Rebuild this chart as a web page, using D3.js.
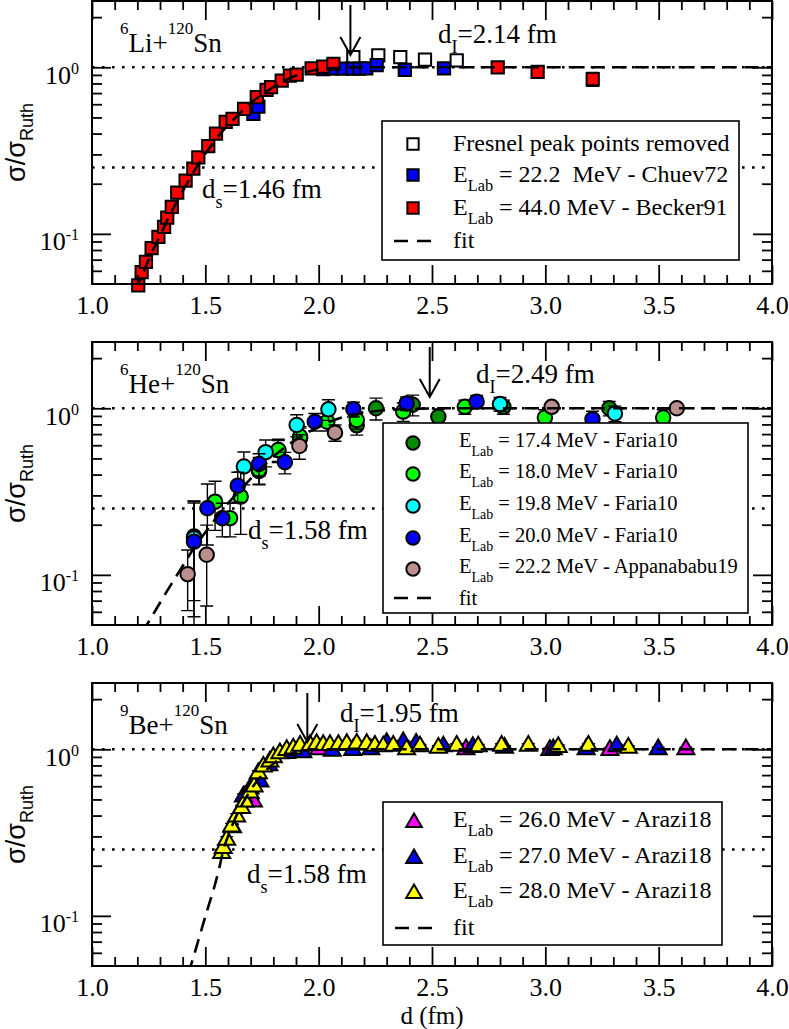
<!DOCTYPE html>
<html>
<head>
<meta charset="utf-8">
<script src="https://cdn.jsdelivr.net/npm/d3@7"></script>
<style>
  body { margin: 0; background: #fff; }
  svg text { white-space: pre; }
</style>
</head>
<body>
<svg id="chart" width="789" height="1029" font-family="'Liberation Serif', 'Times New Roman', Times, 'DejaVu Serif', serif"></svg>
<script>
// axes
const xDomain = [1, 4];
const yDomain = [0.05, 2.5];
const xMajor = [1.0, 1.5, 2.0, 2.5, 3.0, 3.5, 4.0];
const xMinor = [1.1, 1.2, 1.3, 1.4, 1.6, 1.7, 1.8, 1.9, 2.1, 2.2, 2.3, 2.4, 2.6, 2.7, 2.8, 2.9,
                3.1, 3.2, 3.3, 3.4, 3.6, 3.7, 3.8, 3.9];
const yMajor = [0.1, 1];
const yMinor = [0.06, 0.07, 0.08, 0.09, 0.2, 0.3, 0.4, 0.5, 0.6, 0.7, 0.8, 0.9, 2];
const refLines = [1, 0.25];

// annotations: strong absorption and interaction distances
const dS = [1.46, 1.58, 1.58];
const dI = [2.14, 2.49, 1.95];

// 6Li + 120Sn  [d, sigma/sigmaR, error]
const liFresnel = [[2.153, 1.15, 0.03], [2.263, 1.18, 0.03], [2.36, 1.15, 0.03], [2.469, 1.11, 0.03], [2.609, 1.10, 0.03]];
const liChuev = [[1.712, 0.525, 0.02], [1.734, 0.58, 0.02], [2.02, 0.975, 0.03], [2.06, 0.98, 0.03], [2.11, 0.98, 0.03],
                 [2.15, 0.98, 0.03], [2.18, 0.98, 0.03], [2.21, 0.985, 0.03], [2.256, 1.03, 0.03], [2.38, 0.965, 0.03],
                 [2.553, 0.985, 0.03]];
const liBecker = [[1.204, 0.049, 0.002], [1.219, 0.059, 0.003], [1.238, 0.068, 0.003], [1.263, 0.082, 0.004],
                  [1.293, 0.096, 0.004], [1.318, 0.11, 0.005], [1.332, 0.125, 0.006], [1.352, 0.145, 0.006],
                  [1.376, 0.177, 0.008], [1.413, 0.209, 0.009], [1.447, 0.246, 0.01], [1.469, 0.288, 0.012],
                  [1.513, 0.336, 0.014], [1.547, 0.40, 0.016], [1.59, 0.47, 0.018], [1.62, 0.49, 0.02],
                  [1.671, 0.563, 0.02], [1.727, 0.661, 0.025], [1.77, 0.732, 0.025], [1.79, 0.76, 0.03],
                  [1.837, 0.832, 0.03], [1.873, 0.89, 0.03], [1.903, 0.905, 0.03], [1.969, 0.986, 0.03],
                  [2.02, 1.01, 0.03], [2.065, 1.05, 0.03], [2.79, 1.0, 0.04], [2.966, 0.94, 0.06], [3.209, 0.85, 0.08]];
const liFit = [[1.19, 0.045], [1.22, 0.056], [1.25, 0.07], [1.28, 0.086], [1.31, 0.104], [1.35, 0.135], [1.40, 0.18],
               [1.46, 0.25], [1.52, 0.33], [1.58, 0.42], [1.64, 0.51], [1.70, 0.61], [1.76, 0.70], [1.82, 0.79],
               [1.88, 0.87], [1.94, 0.93], [2.00, 0.97], [2.08, 0.99], [2.2, 1.0], [4.0, 1.0]];

// 6He + 120Sn
const heFaria174 = [[1.45, 0.17, 0.1], [1.737, 0.42, 0.07], [1.822, 0.56, 0.08], [1.918, 0.66, 0.1], [2.168, 0.79, 0.1],
                    [2.253, 1.0, 0.15], [2.415, 1.05, 0.15], [2.528, 0.89, 0.1], [2.815, 1.02, 0.1], [3.282, 1.0, 0.1]];
const heFaria180 = [[1.543, 0.275, 0.09], [1.609, 0.219, 0.05], [1.656, 0.295, 0.12], [1.737, 0.427, 0.08],
                    [1.822, 0.562, 0.09], [1.918, 0.676, 0.1], [2.038, 0.83, 0.1], [2.168, 0.85, 0.1],
                    [2.373, 0.955, 0.12], [2.645, 1.02, 0.1], [2.998, 0.88, 0.1], [3.52, 0.88, 0.1]];
const heFaria198 = [[1.45, 0.166, 0.11], [1.67, 0.447, 0.1], [1.766, 0.545, 0.1], [1.903, 0.794, 0.12],
                    [2.043, 0.986, 0.14], [2.8, 1.06, 0.1], [3.307, 0.93, 0.1]];
const heFaria200 = [[1.45, 0.158, 0.12], [1.509, 0.251, 0.1], [1.575, 0.219, 0.05], [1.643, 0.343, 0.07],
                    [1.737, 0.463, 0.07], [1.851, 0.474, 0.07], [1.983, 0.83, 0.1], [2.153, 0.986, 0.1],
                    [2.388, 1.07, 0.1], [2.697, 1.096, 0.1], [3.208, 0.86, 0.1]];
const heAppana = [[1.422, 0.101, 0.04], [1.506, 0.132, 0.067], [1.915, 0.594, 0.1], [2.072, 0.714, 0.08],
                  [3.028, 1.02, 0.05], [3.58, 1.0, 0.05]];
const heFit = [[1.22, 0.045], [1.26, 0.055], [1.30, 0.068], [1.35, 0.088], [1.40, 0.113], [1.45, 0.145], [1.50, 0.18],
               [1.58, 0.25], [1.66, 0.33], [1.74, 0.43], [1.82, 0.54], [1.90, 0.65], [1.98, 0.75], [2.06, 0.84],
               [2.14, 0.91], [2.22, 0.95], [2.32, 0.98], [2.45, 0.995], [2.6, 1.0], [4.0, 1.0]];

// 9Be + 120Sn
const beArazi26 = [[1.712, 0.485, 0.02], [2.0, 1.0, 0.03], [2.65, 1.0, 0.03], [3.02, 0.99, 0.03], [3.285, 0.99, 0.03],
                   [3.62, 1.0, 0.03]];
const beArazi27 = [[1.62, 0.34, 0.015], [1.668, 0.52, 0.02], [1.697, 0.58, 0.02], [1.741, 0.64, 0.025], [1.78, 0.8, 0.03],
                   [1.859, 0.95, 0.03], [1.93, 0.96, 0.03], [2.06, 0.98, 0.03], [2.15, 0.99, 0.03], [2.23, 1.0, 0.03],
                   [2.3, 1.09, 0.03], [2.373, 1.1, 0.03], [2.43, 1.08, 0.03], [2.55, 1.04, 0.03], [2.68, 1.03, 0.03],
                   [2.82, 1.02, 0.03], [3.035, 1.0, 0.03], [3.18, 1.0, 0.03], [3.315, 1.04, 0.03], [3.498, 1.0, 0.03]];
const beArazi28 = [[1.572, 0.238, 0.012], [1.579, 0.255, 0.012], [1.594, 0.286, 0.013], [1.616, 0.344, 0.015],
                   [1.638, 0.394, 0.017], [1.66, 0.443, 0.019], [1.675, 0.485, 0.02], [1.697, 0.549, 0.022],
                   [1.715, 0.597, 0.024], [1.734, 0.718, 0.026], [1.756, 0.786, 0.028], [1.785, 0.843, 0.03],
                   [1.8, 0.896, 0.03], [1.829, 0.946, 0.03], [1.859, 0.99, 0.03], [1.888, 1.01, 0.03],
                   [1.918, 1.05, 0.03], [1.962, 1.06, 0.03], [1.991, 1.075, 0.03], [2.02, 1.06, 0.03],
                   [2.05, 1.06, 0.03], [2.087, 1.06, 0.03], [2.124, 1.075, 0.03], [2.168, 1.08, 0.03],
                   [2.212, 1.075, 0.03], [2.248, 1.05, 0.03], [2.285, 1.04, 0.03], [2.329, 1.05, 0.03],
                   [2.388, 1.0, 0.03], [2.447, 1.04, 0.03], [2.528, 1.02, 0.03], [2.609, 1.05, 0.03],
                   [2.704, 1.04, 0.03], [2.807, 1.05, 0.03], [2.925, 1.05, 0.03], [3.057, 1.03, 0.03],
                   [3.19, 1.05, 0.03], [3.366, 1.02, 0.03]];
const beFit = [[1.425, 0.045], [1.45, 0.058], [1.48, 0.08], [1.51, 0.11], [1.54, 0.15], [1.56, 0.19], [1.58, 0.25],
               [1.60, 0.30], [1.63, 0.38], [1.66, 0.46], [1.70, 0.57], [1.75, 0.70], [1.80, 0.82], [1.85, 0.91],
               [1.90, 0.96], [1.96, 0.99], [2.05, 1.0], [4.0, 1.0]];

const svg = d3.select("#chart");
const left = 92, right = 772, ph = 283;
const x = d3.scaleLinear().domain(xDomain).range([left, right]);

const shapes = { square: d3.symbolSquare, circle: d3.symbolCircle, triangle: d3.symbolTriangle };
const sizes = { square: 150, circle: 165, triangle: 125 };

const panels = [
    {
        id: 0, top: 1, proj: "6", projName: "Li+",
        series: [
            { data: liFresnel, shape: "square", fill: "#ffffff", label: ["Fresnel peak points removed"] },
            { data: liChuev, shape: "square", fill: "#0000ff", label: ["E", "Lab", " = 22.2  MeV - Chuev72"] },
            { data: liBecker, shape: "square", fill: "#ff0000", label: ["E", "Lab", " = 44.0 MeV - Becker91"] }
        ],
        fit: liFit,
        dsText: [202, 197], diText: [438, 42], arrow: [4, 54],
        legend: { box: [382, 121, 739, 260], symX: 413, textX: 453, rows: [151, 182, 215, 248], size: 24, off: -7 }
    },
    {
        id: 1, top: 342, proj: "6", projName: "He+",
        series: [
            { data: heFaria174, shape: "circle", fill: "#008b00", label: ["E", "Lab", " = 17.4 MeV - Faria10"] },
            { data: heFaria180, shape: "circle", fill: "#00ff00", label: ["E", "Lab", " = 18.0 MeV - Faria10"] },
            { data: heFaria198, shape: "circle", fill: "#00ffff", label: ["E", "Lab", " = 19.8 MeV - Faria10"] },
            { data: heFaria200, shape: "circle", fill: "#0000ff", label: ["E", "Lab", " = 20.0 MeV - Faria10"] },
            { data: heAppana, shape: "circle", fill: "#bc8f8f", label: ["E", "Lab", " = 22.2 MeV - Appanababu19"] }
        ],
        fit: heFit,
        dsText: [248, 197], diText: [476, 41], arrow: [5, 55],
        legend: { box: [383, 423, 748, 613], symX: 413, textX: 459, rows: [447, 478, 510, 542, 573, 605], size: 20.5, off: -4 }
    },
    {
        id: 2, top: 683, proj: "9", projName: "Be+",
        series: [
            { data: beArazi26, shape: "triangle", fill: "#ff00ff", label: ["E", "Lab", " = 26.0 MeV - Arazi18"] },
            { data: beArazi27, shape: "triangle", fill: "#0000ff", label: ["E", "Lab", " = 27.0 MeV - Arazi18"] },
            { data: beArazi28, shape: "triangle", fill: "#ffff00", label: ["E", "Lab", " = 28.0 MeV - Arazi18"] }
        ],
        fit: beFit,
        dsText: [247, 200], diText: [340, 39], arrow: [10, 59],
        legend: { box: [383, 802, 722, 945], symX: 414, textX: 453, rows: [827, 863, 898, 935], size: 24, off: -4.5 }
    }
];

function styleAxis(g) {
    g.select(".domain").remove();
    g.attr("font-family", null).attr("font-size", 26);
    g.selectAll(".tick line").attr("stroke", "#000").attr("stroke-width", 1.8);
}

function drawPanel(p) {
    const top = p.top, bottom = top + ph;
    const y = d3.scaleLog().domain(yDomain).range([bottom, top]);
    const clipId = "clip" + p.id;
    svg.append("clipPath").attr("id", clipId)
        .append("rect").attr("x", left).attr("y", top).attr("width", right - left).attr("height", ph);

    const g = svg.append("g");

    // dotted reference lines at 1 and 1/4
    g.selectAll(".ref").data(refLines).join("line")
        .attr("x1", left).attr("x2", right)
        .attr("y1", d => y(d)).attr("y2", d => y(d))
        .attr("stroke", "#000").attr("stroke-width", 2.6).attr("stroke-dasharray", "2.6 7.4");

    p.series.forEach(s => {
        g.append("g").attr("clip-path", `url(#${clipId})`)
            .selectAll("path").data(s.data).join("path")
            .attr("d", ([d, v, e]) => {
                const cx = x(d), y1 = y(Math.max(v - e, 0.001)), y2 = y(v + e);
                return `M${cx - 6.5},${y1}H${cx + 6.5}M${cx},${y1}V${y2}M${cx - 6.5},${y2}H${cx + 6.5}`;
            })
            .attr("fill", "none").attr("stroke", "#000").attr("stroke-width", 1.4);

        g.append("g").selectAll("path").data(s.data).join("path")
            .attr("transform", ([d, v]) => `translate(${x(d)},${y(v)})`)
            .attr("d", d3.symbol(shapes[s.shape], sizes[s.shape]))
            .attr("fill", s.fill).attr("stroke", "#000").attr("stroke-width", 2);
    });

    // fit curve
    g.append("path").datum(p.fit)
        .attr("clip-path", `url(#${clipId})`)
        .attr("d", d3.line().x(d => x(d[0])).y(d => y(d[1])).curve(d3.curveMonotoneX))
        .attr("fill", "none").attr("stroke", "#000").attr("stroke-width", 2.6)
        .attr("stroke-dasharray", "14 8");

    // arrow at d_I
    const ax = x(dI[p.id]), a0 = top + p.arrow[0], a1 = top + p.arrow[1];
    g.append("path")
        .attr("d", `M${ax},${a0}V${a1}M${ax - 10},${a1 - 18}L${ax},${a1}L${ax + 10},${a1 - 18}`)
        .attr("fill", "none").attr("stroke", "#000").attr("stroke-width", 2);

    // axes
    svg.append("g").attr("transform", `translate(0,${bottom})`)
        .call(d3.axisBottom(x).tickValues(xMajor).tickSize(-19).tickPadding(11.5).tickFormat(d3.format(".1f")))
        .call(styleAxis);
    svg.append("g").attr("transform", `translate(0,${bottom})`)
        .call(d3.axisBottom(x).tickValues(xMinor).tickSize(-9).tickFormat("")).call(styleAxis);
    svg.append("g").attr("transform", `translate(0,${top})`)
        .call(d3.axisTop(x).tickValues(xMajor).tickSize(-19).tickFormat("")).call(styleAxis);
    svg.append("g").attr("transform", `translate(0,${top})`)
        .call(d3.axisTop(x).tickValues(xMinor).tickSize(-9).tickFormat("")).call(styleAxis);

    svg.append("g").attr("transform", `translate(${left},0)`)
        .call(d3.axisLeft(y).tickValues(yMajor).tickSize(-19).tickPadding(13))
        .call(styleAxis)
        .call(a => a.selectAll(".tick text").text("10").attr("dy", 16)
            .append("tspan").attr("font-size", 16).attr("dy", -10)
            .text(d => String(Math.round(Math.log10(d)))));
    svg.append("g").attr("transform", `translate(${left},0)`)
        .call(d3.axisLeft(y).tickValues(yMinor).tickSize(-10).tickFormat("")).call(styleAxis);
    svg.append("g").attr("transform", `translate(${right},0)`)
        .call(d3.axisRight(y).tickValues(yMajor).tickSize(-19).tickFormat("")).call(styleAxis);
    svg.append("g").attr("transform", `translate(${right},0)`)
        .call(d3.axisRight(y).tickValues(yMinor).tickSize(-10).tickFormat("")).call(styleAxis);

    svg.append("rect").attr("x", left).attr("y", top).attr("width", right - left).attr("height", ph)
        .attr("fill", "none").attr("stroke", "#000").attr("stroke-width", 2);

    // y title
    const yt = svg.append("text")
        .attr("transform", `translate(25,${top + ph / 2})rotate(-90)`)
        .attr("text-anchor", "middle")
        .attr("font-family", "'Liberation Sans', Arial, 'DejaVu Sans', sans-serif")
        .attr("font-size", 27);
    yt.append("tspan").text("σ/σ");
    yt.append("tspan").attr("font-size", 18).attr("dy", 8).text("Ruth");

    // reaction label
    const rl = svg.append("text").attr("x", 120).attr("y", top + 51).attr("font-size", 27);
    rl.append("tspan").attr("font-size", 17).attr("dy", -18).text(p.proj);
    rl.append("tspan").attr("dy", 18).text(p.projName);
    rl.append("tspan").attr("font-size", 17).attr("dy", -18).text("120");
    rl.append("tspan").attr("dy", 18).text("Sn");

    // distance annotations
    const addDist = (pos, sub, val) => {
        const t = svg.append("text").attr("x", pos[0]).attr("y", top + pos[1]).attr("font-size", 27);
        t.append("tspan").text("d");
        t.append("tspan").attr("font-size", 18).attr("dy", 10).text(sub);
        t.append("tspan").attr("dy", -10).text(`=${val.toFixed(2)} fm`);
    };
    addDist(p.dsText, "s", dS[p.id]);
    addDist(p.diText, "I", dI[p.id]);

    // legend
    const L = p.legend;
    const lg = svg.append("g");
    lg.append("rect").attr("x", L.box[0]).attr("y", L.box[1])
        .attr("width", L.box[2] - L.box[0]).attr("height", L.box[3] - L.box[1])
        .attr("fill", "#fff").attr("stroke", "#000").attr("stroke-width", 1.6);
    p.series.forEach((s, i) => {
        const by = L.rows[i];
        lg.append("path").attr("transform", `translate(${L.symX},${by + L.off})`)
            .attr("d", d3.symbol(shapes[s.shape], sizes[s.shape] * 0.85))
            .attr("fill", s.fill).attr("stroke", "#000").attr("stroke-width", 2);
        const t = lg.append("text").attr("x", L.textX).attr("y", by).attr("font-size", L.size);
        t.append("tspan").text(s.label[0]);
        if (s.label.length > 1) {
            t.append("tspan").attr("font-size", L.size * 0.68).attr("dy", 9).text(s.label[1]);
            t.append("tspan").attr("dy", -9).text(s.label[2]);
        }
    });
    const fy = L.rows[p.series.length];
    lg.append("line").attr("x1", L.symX - 19).attr("x2", L.symX + 19)
        .attr("y1", fy - 7).attr("y2", fy - 7)
        .attr("stroke", "#000").attr("stroke-width", 2.6).attr("stroke-dasharray", "14 9");
    lg.append("text").attr("x", L.textX).attr("y", fy).attr("font-size", L.size).text("fit");
}

panels.forEach(drawPanel);

svg.append("text").attr("x", x(2.5)).attr("y", 1024).attr("text-anchor", "middle")
    .attr("font-size", 25).text("d (fm)");
</script>
</body>
</html>
